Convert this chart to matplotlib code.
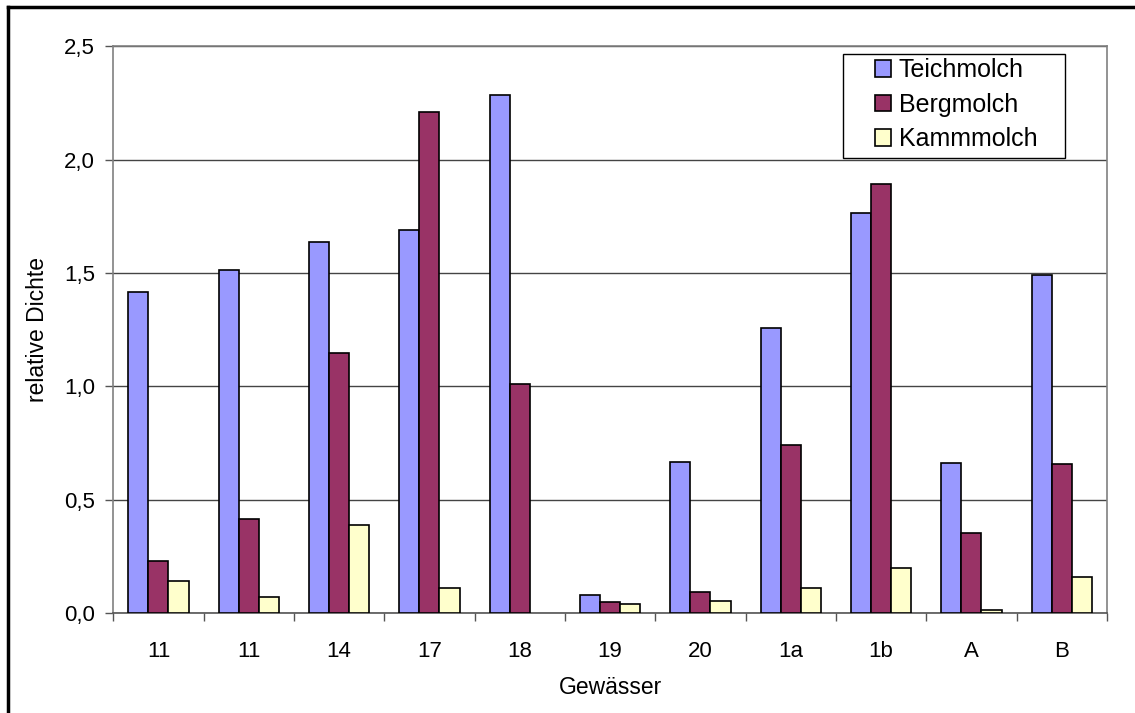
import numpy as np
import matplotlib
matplotlib.use("Agg")
import matplotlib.pyplot as plt
from matplotlib.lines import Line2D
from matplotlib.patches import Rectangle

plt.rcParams['font.family'] = ['Liberation Sans', 'DejaVu Sans']

gewaesser = ["11", "11", "14", "17", "18", "19", "20", "1a", "1b", "A", "B"]
teichmolch = [1.415, 1.513, 1.638, 1.688, 2.287, 0.078, 0.666, 1.257, 1.763, 0.660, 1.491]
bergmolch = [0.231, 0.413, 1.149, 2.213, 1.010, 0.049, 0.091, 0.743, 1.893, 0.354, 0.656]
kammmolch = [0.141, 0.071, 0.390, 0.110, 0.0, 0.040, 0.053, 0.112, 0.199, 0.012, 0.160]

series = [("Teichmolch", teichmolch, "#9999FF"),
          ("Bergmolch", bergmolch, "#993366"),
          ("Kammmolch", kammmolch, "#FFFFCC")]

fig = plt.figure(figsize=(11.35, 7.13), dpi=100)
ax = fig.add_axes([0.0998, 0.1403, 0.8755, 0.7945])

x = np.arange(len(gewaesser)) + 0.5
w = 0.222
for i, (name, vals, col) in enumerate(series):
    # Balken mit Wert 0 ohne Rand, sonst sieht man einen Strich
    lws = [1.2 if v > 0 else 0 for v in vals]
    ax.bar(x + (i - 1) * w, vals, w, color=col, edgecolor="black",
           linewidth=lws, label=name, zorder=3)

ax.set_xlim(0, len(gewaesser))
ax.set_ylim(0, 2.5)
yt = np.arange(0, 2.51, 0.5)
ax.set_yticks(yt)
ax.set_yticklabels([f"{v:.1f}".replace(".", ",") for v in yt])
ax.yaxis.grid(True, color="#444444", linewidth=1.0, zorder=0)

ax.set_xticks(np.arange(0, len(gewaesser) + 1))
ax.set_xticklabels([])
ax.set_xticks(x, minor=True)
ax.set_xticklabels(gewaesser, minor=True)
ax.tick_params(axis="x", which="minor", length=0, pad=20, labelsize=16)
ax.tick_params(axis="x", which="major", length=6, width=1, color="#555555", direction="out")
ax.tick_params(axis="y", length=6, width=1, color="#555555", labelsize=16, pad=7)

for s in ["left", "right", "top", "bottom"]:
    ax.spines[s].set_color("#808080")
    ax.spines[s].set_linewidth(1.2)
ax.spines["bottom"].set_color("#555555")

ax.set_xlabel("Gewässer", fontsize=16.5, labelpad=10)
ax.set_ylabel("relative Dichte", fontsize=16.5, labelpad=11)

# Legendenrahmen extra, damit links Platz bleibt wie im Original
ax.add_patch(Rectangle((0.734, 0.803), 0.224, 0.184, transform=ax.transAxes,
                       facecolor="white", edgecolor="black", linewidth=1.0, zorder=4))
leg = ax.legend(loc="upper left", bbox_to_anchor=(0.7665, 0.979), fontsize=18,
                frameon=False, handlelength=0.65, handleheight=0.65,
                handletextpad=0.3, borderpad=0, labelspacing=0.42, borderaxespad=0)
leg.set_zorder(5)
for h in leg.legend_handles:
    h.set_linewidth(1.2)

# Rahmen links und oben
fig.add_artist(Line2D([0.007, 0.007], [0, 0.990], color="black", lw=2.5, transform=fig.transFigure))
fig.add_artist(Line2D([0.007, 1.0], [0.990, 0.990], color="black", lw=2.5, transform=fig.transFigure))

fig.savefig("out.png", dpi=100)
